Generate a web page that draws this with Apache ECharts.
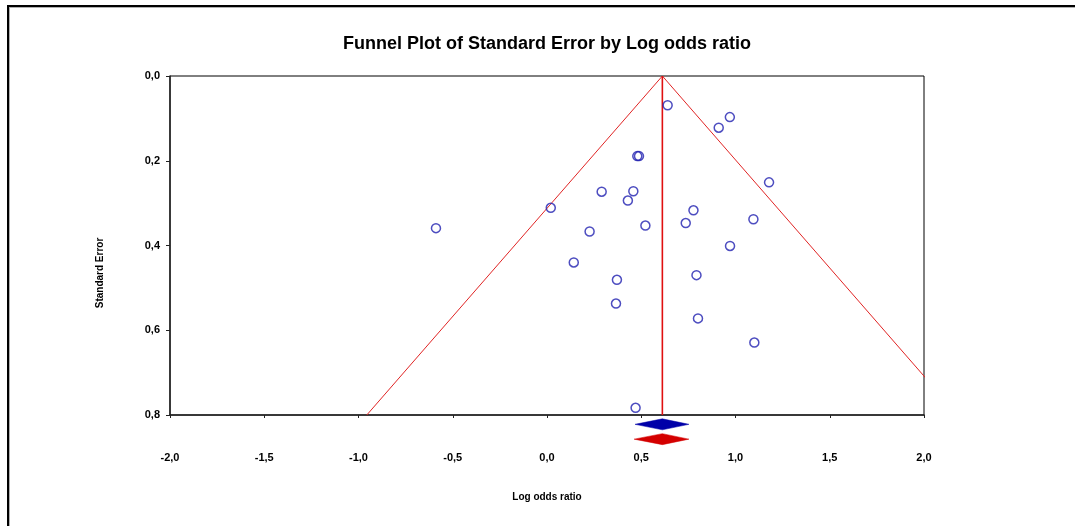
<!DOCTYPE html>
<html>
<head>
<meta charset="utf-8">
<script src="https://cdn.jsdelivr.net/npm/echarts@6/dist/echarts.min.js"></script>
<style>
  html, body { margin: 0; padding: 0; background: #fff; }
  #frame { position: absolute; left: 7px; top: 5px; width: 1075px; height: 526px;
           border-top: 2px solid #000; border-left: 2px solid #000; }
  #frame2 { position: absolute; left: 9px; top: 7px; width: 1075px; height: 526px;
           border-top: 1px solid #b0b0b0; border-left: 1px solid #b0b0b0; }
  #chart { position: absolute; left: 0; top: 0; width: 1075px; height: 526px; }
</style>
</head>
<body>
<div id="frame"></div>
<div id="frame2"></div>
<div id="chart"></div>
<script>
// ---- data ----
const titleText = 'Funnel Plot of Standard Error by Log odds ratio';
const xAxisName = 'Log odds ratio';
const yAxisName = 'Standard Error';

const logOdds = [0.640, 0.970, 0.911, 0.479, 0.488, 1.178, 0.290, 0.458, 0.429, 0.020,
                 -0.589, 0.226, 0.522, 0.777, 0.736, 1.095, 0.971, 0.142, 0.371, 0.366,
                 0.793, 0.801, 1.100, 0.470];
const stdErr  = [0.069, 0.097, 0.122, 0.189, 0.189, 0.251, 0.273, 0.272, 0.294, 0.311,
                 0.359, 0.367, 0.353, 0.317, 0.347, 0.338, 0.401, 0.440, 0.481, 0.537,
                 0.470, 0.572, 0.629, 0.783];

const funnelX = [-0.956, 0.612, 2.180];
const funnelY = [0.8, 0.0, 0.8];
const meanLineX = [0.612, 0.612];
const meanLineY = [0.0, 0.8];

// summary diamonds: [lower, estimate, upper, row position]
const diamondObserved = [0.467, 0.612, 0.753, 0.822];
const diamondAdjusted = [0.462, 0.612, 0.753, 0.857];

const xTickValues = [-2.0, -1.5, -1.0, -0.5, 0.0, 0.5, 1.0, 1.5, 2.0];
const xTickLabels = ['-2,0', '-1,5', '-1,0', '-0,5', '0,0', '0,5', '1,0', '1,5', '2,0'];
const yTickValues = [0.0, 0.2, 0.4, 0.6, 0.8];
const yTickLabels = ['0,0', '0,2', '0,4', '0,6', '0,8'];

function lookup(vals, labels, v) {
  for (let i = 0; i < vals.length; i++) if (Math.abs(vals[i] - v) < 1e-6) return labels[i];
  return '';
}

const chart = echarts.init(document.getElementById('chart'), null, { renderer: 'canvas' });

const pts = logOdds.map((x, i) => [x, stdErr[i]]);

function diamondItem(color) {
  return function (params, api) {
    const lo = api.coord([api.value(0), api.value(3)]);
    const mid = api.coord([api.value(1), api.value(3)]);
    const hi = api.coord([api.value(2), api.value(3)]);
    const h = 5.5;
    return {
      type: 'polygon',
      shape: { points: [[lo[0], lo[1]], [mid[0], mid[1] - h], [hi[0], hi[1]], [mid[0], mid[1] + h]] },
      style: { fill: color, stroke: color, lineWidth: 0.5 }
    };
  };
}

const font = 'Arial, "Liberation Sans", sans-serif';

chart.setOption({
  animation: false,
  backgroundColor: 'transparent',
  title: {
    text: titleText,
    left: 338,
    top: 30,
    textStyle: { fontFamily: font, fontSize: 18, fontWeight: 'bold', color: '#000' }
  },
  grid: {
    left: 170, top: 76, width: 754, height: 339,
    show: true, borderColor: '#000', borderWidth: 1, backgroundColor: 'transparent'
  },
  xAxis: {
    type: 'value', min: -2, max: 2, interval: 0.5,
    name: xAxisName, nameLocation: 'middle', nameGap: 77,
    nameTextStyle: { fontFamily: font, fontSize: 10, fontWeight: 'bold', color: '#000' },
    axisLine: { show: true, onZero: false, lineStyle: { color: '#222', width: 1.5 } },
    axisTick: { show: true, length: 3, lineStyle: { color: '#222', width: 1 } },
    splitLine: { show: false },
    axisLabel: {
      margin: 37, fontFamily: font, fontSize: 11, fontWeight: 'bold', color: '#000',
      formatter: v => lookup(xTickValues, xTickLabels, v)
    }
  },
  yAxis: {
    type: 'value', min: 0, max: 0.8, interval: 0.2, inverse: true,
    axisLine: { show: true, onZero: false, lineStyle: { color: '#222', width: 1.5 } },
    axisTick: { show: true, length: 4, lineStyle: { color: '#222', width: 1 } },
    splitLine: { show: false },
    axisLabel: {
      margin: 10, fontFamily: font, fontSize: 11, fontWeight: 'bold', color: '#000',
      formatter: v => lookup(yTickValues, yTickLabels, v)
    }
  },
  graphic: [{
    type: 'text', rotation: Math.PI / 2,
    x: 100, y: 273,
    style: { text: yAxisName, fontFamily: font, fontSize: 10, fontWeight: 'bold', fill: '#000',
             textAlign: 'center', textVerticalAlign: 'middle' }
  }],
  series: [
    {
      type: 'line', data: funnelX.map((x, i) => [x, funnelY[i]]),
      symbol: 'none', clip: true, z: 2,
      lineStyle: { color: '#e02424', width: 1 }
    },
    {
      type: 'line', data: meanLineX.map((x, i) => [x, meanLineY[i]]),
      symbol: 'none', clip: true, z: 2,
      lineStyle: { color: '#e01010', width: 1.6 }
    },
    {
      type: 'scatter', data: pts, symbol: 'circle', symbolSize: 9, z: 3,
      itemStyle: { color: 'rgba(255,255,255,0)', borderColor: '#2020b0', borderWidth: 1.5 }
    },
    {
      type: 'custom', clip: false, z: 4,
      renderItem: diamondItem('#0000a8'),
      data: [diamondObserved]
    },
    {
      type: 'custom', clip: false, z: 4,
      renderItem: diamondItem('#d40000'),
      data: [diamondAdjusted]
    }
  ]
});
</script>
</body>
</html>
